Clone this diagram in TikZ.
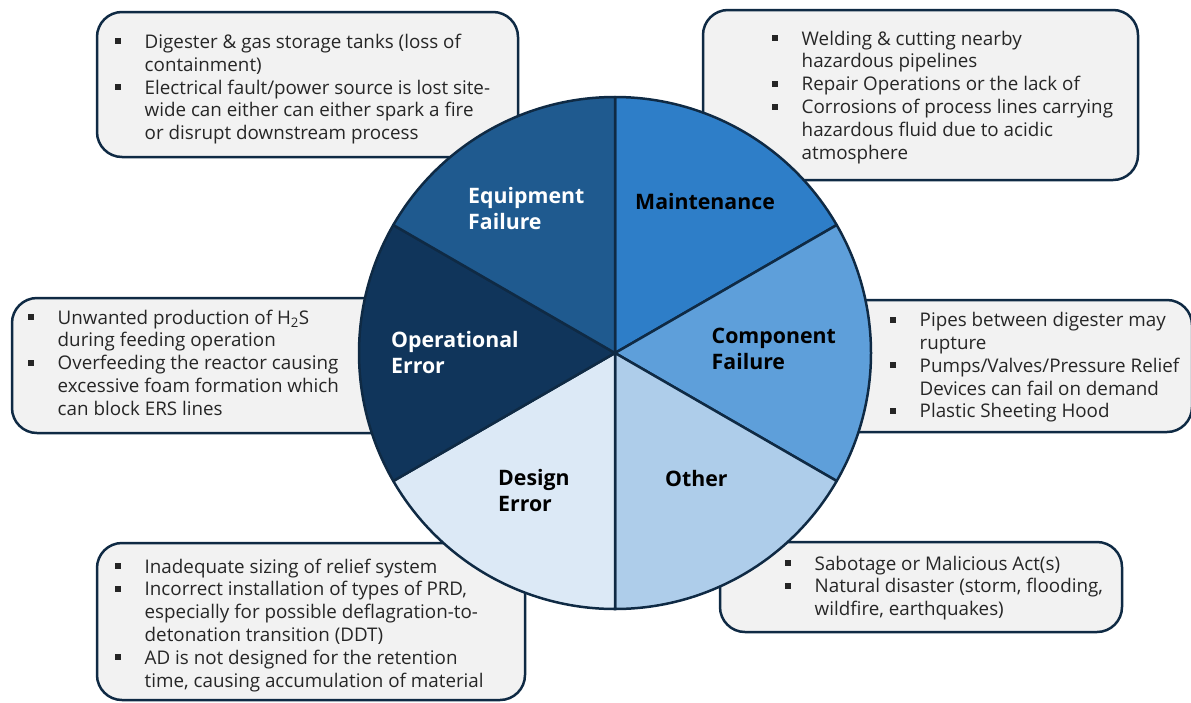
\documentclass[tikz,border=0pt]{standalone}
\usepackage{fontspec}
\setmainfont{Open Sans}
\definecolor{edge}{HTML}{0F2A44}
\definecolor{boxfill}{HTML}{F2F2F2}
\definecolor{cMaint}{HTML}{2E7EC8}
\definecolor{cComp}{HTML}{5E9FDA}
\definecolor{cOther}{HTML}{AECDEA}
\definecolor{cDesign}{HTML}{DCE9F6}
\definecolor{cOper}{HTML}{10355B}
\definecolor{cEquip}{HTML}{1F5A8F}
\newcommand\bl{\strut\makebox[29.5pt][l]{\rule[4pt]{6pt}{6pt}}}
\newcommand\ct{\strut\hspace*{29.5pt}}
\tikzset{
  box/.style={draw=edge, line width=2.5pt, fill=boxfill, rounded corners=25pt, rectangle, inner sep=0pt},
  boxtext/.style={anchor=north west, inner sep=0pt, align=left, text=black!85,
    font=\fontsize{18.8}{22.8}\selectfont},
  slice/.style={draw=edge, line width=2.5pt, line join=round},
  lab/.style={anchor=north west, inner sep=0pt, align=left,
    font=\fontsize{21.3}{26}\selectfont\bfseries},
}
\begin{document}
\begin{tikzpicture}[x=1pt,y=-1pt]
\useasboundingbox (0,0) rectangle (1191,702);
% boxes
\node[box, minimum width=421pt, minimum height=145pt] (b1) at (307.5,84.5) {};
\node[box, minimum width=435pt, minimum height=170pt] (b2) at (920.5,95) {};
\node[box, minimum width=408pt, minimum height=135pt] (b3) at (216,365.5) {};
\node[box, minimum width=362pt, minimum height=132pt] (b4) at (1011,366) {};
\node[box, minimum width=428pt, minimum height=157pt] (b5) at (311,621.5) {};
\node[box, minimum width=402pt, minimum height=90pt] (b6) at (921,587) {};
% box texts
\node[boxtext] (t1) at (115,32.3) {\bl Digester \& gas storage tanks (loss of\\\ct containment)\\\bl Electrical fault/power source is lost site-\\\ct wide can either can either spark a fire\\\ct or disrupt downstream process};
\node[boxtext] (t2) at (772,29) {\bl Welding \& cutting nearby\\\ct hazardous pipelines\\\bl Repair Operations or the lack of\\\bl Corrosions of process lines carrying\\\ct hazardous fluid due to acidic\\\ct atmosphere};
\node[boxtext] (t3) at (28,308) {\bl Unwanted production of H\textsubscript{2}S\\\ct during feeding operation\\\bl Overfeeding the reactor causing\\\ct excessive foam formation which\\\ct can block ERS lines};
\node[boxtext] (t4) at (890,310.5) {\bl Pipes between digester may\\\ct rupture\\\bl Pumps/Valves/Pressure Relief\\\ct Devices can fail on demand\\\bl Plastic Sheeting Hood};
\node[boxtext] (t5) at (115,557) {\bl Inadequate sizing of relief system\\\bl Incorrect installation of types of PRD,\\\ct especially for possible deflagration-to-\\\ct detonation transition (DDT)\\\bl AD is not designed for the retention\\\ct time, causing accumulation of material};
\node[boxtext] (t6) at (785,554) {\bl Sabotage or Malicious Act(s)\\\bl Natural disaster (storm, flooding,\\\ct wildfire, earthquakes)};
% pie
\coordinate (C) at (615,353);
\foreach \a/\b/\c in {-90/-30/cMaint, -30/30/cComp, 30/90/cOther, 90/150/cDesign, 150/210/cOper, 210/270/cEquip}{
  \filldraw[slice, fill=\c] (C) -- ++(\a:256) arc[start angle=\a, end angle=\b, radius=256] -- cycle;
}
% labels
\node[lab, text=white] (lEquip) at (468,184.6) {\strut Equipment\\\strut Failure};
\node[lab, text=black] (lMaint) at (635,190.6) {\strut Maintenance};
\node[lab, text=white] (lOper) at (391,329.3) {\strut Operational\\\strut Error};
\node[lab, text=black] (lComp) at (711.5,324.9) {\strut Component\\\strut Failure};
\node[lab, text=black] (lDesign) at (498,466.6) {\strut Design\\\strut Error};
\node[lab, text=black] (lOther) at (665,468.3) {\strut Other};
\end{tikzpicture}
\end{document}
